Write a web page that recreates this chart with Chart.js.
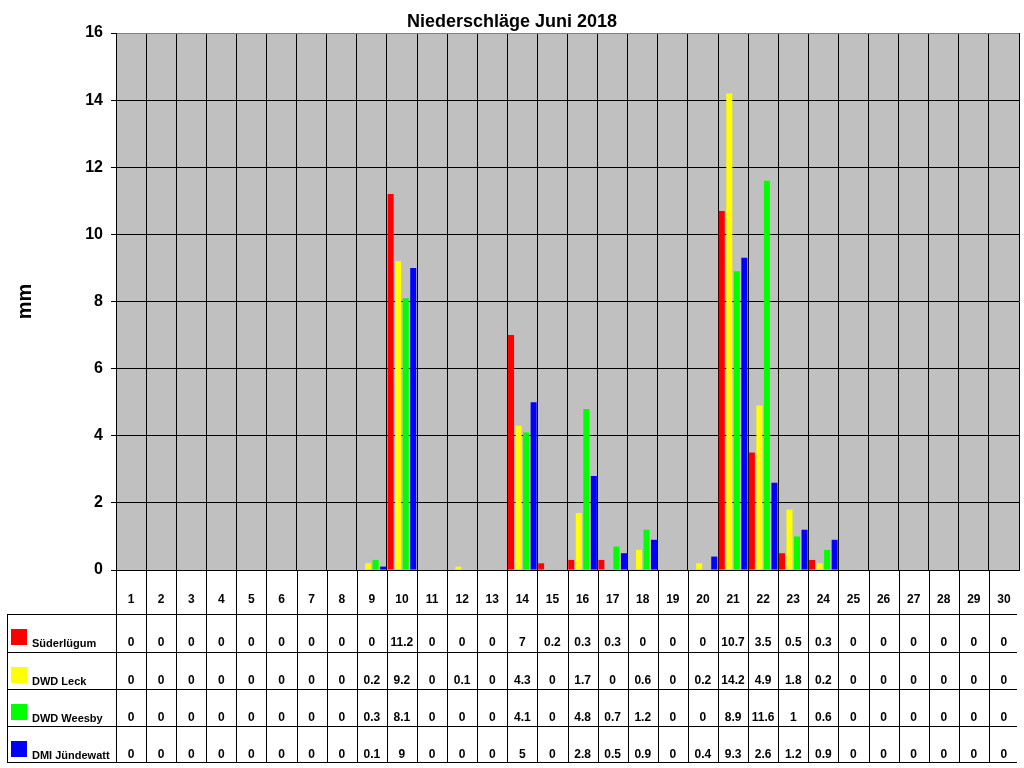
<!DOCTYPE html>
<html>
<head>
<meta charset="utf-8">
<script src="https://cdn.jsdelivr.net/npm/chart.js@4.4.0/dist/chart.umd.min.js"></script>
<style>
html,body{margin:0;padding:0;background:#fff;overflow:hidden;}
#wrap{width:1024px;height:768px;position:relative;}
canvas{display:block;}
</style>
</head>
<body>
<div id="wrap"><canvas id="c" width="1024" height="768"></canvas></div>
<script>
const days = ["1","2","3","4","5","6","7","8","9","10","11","12","13","14","15","16","17","18","19","20","21","22","23","24","25","26","27","28","29","30"];
const seriesNames = ["Süderlügum", "DWD Leck", "DWD Weesby", "DMI Jündewatt"];
const seriesColors = ["#FF0000", "#FFFF00", "#00FF00", "#0000FF"];
const suederluegum = [0,0,0,0,0,0,0,0,0,11.2,0,0,0,7,0.2,0.3,0.3,0,0,0,10.7,3.5,0.5,0.3,0,0,0,0,0,0];
const dwdLeck      = [0,0,0,0,0,0,0,0,0.2,9.2,0,0.1,0,4.3,0,1.7,0,0.6,0,0.2,14.2,4.9,1.8,0.2,0,0,0,0,0,0];
const dwdWeesby    = [0,0,0,0,0,0,0,0,0.3,8.1,0,0,0,4.1,0,4.8,0.7,1.2,0,0,8.9,11.6,1,0.6,0,0,0,0,0,0];
const dmiJuendewatt= [0,0,0,0,0,0,0,0,0.1,9,0,0,0,5,0,2.8,0.5,0.9,0,0.4,9.3,2.6,1.2,0.9,0,0,0,0,0,0];
const yTicks = [0,2,4,6,8,10,12,14,16];
const seriesValues = [suederluegum, dwdLeck, dwdWeesby, dmiJuendewatt];

const FONT = "'Liberation Sans', Arial, sans-serif";

const bgPlugin = {
  id: 'bg',
  beforeDraw(chart) {
    const {ctx, chartArea: a} = chart;
    ctx.save();
    ctx.fillStyle = '#C0C0C0';
    ctx.fillRect(a.left, a.top, a.right - a.left, a.bottom - a.top);
    ctx.restore();
  }
};

const tablePlugin = {
  id: 'table',
  afterDraw(chart) {
    const {ctx, chartArea: a} = chart;
    const xs = chart.scales.x;
    const step = xs.getPixelForValue(1) - xs.getPixelForValue(0);
    const rowTops = [a.bottom + 44, a.bottom + 82, a.bottom + 119, a.bottom + 156];
    const tableBottom = a.bottom + 192;
    const legendLeft = 7;
    ctx.save();
    ctx.strokeStyle = '#000';
    ctx.lineWidth = 1;
    ctx.beginPath();
    for (let i = 0; i < days.length; i++) {
      const x = Math.round(xs.getPixelForValue(i) - step / 2) + 0.5;
      ctx.moveTo(x, a.bottom);
      ctx.lineTo(x, tableBottom);
    }
    ctx.moveTo(legendLeft + 0.5, rowTops[0]);
    ctx.lineTo(legendLeft + 0.5, tableBottom);
    const hl = rowTops.concat([tableBottom]);
    const rightEnd = a.right - 2;
    hl.forEach(y => {
      ctx.moveTo(legendLeft, y + 0.5);
      ctx.lineTo(rightEnd, y + 0.5);
    });
    ctx.stroke();

    ctx.textBaseline = 'middle';
    seriesValues.forEach((vals, r) => {
      const top = rowTops[r];
      ctx.fillStyle = seriesColors[r];
      ctx.fillRect(11, top + 15, 16, 16);
      ctx.fillStyle = '#000';
      ctx.textAlign = 'left';
      ctx.font = "bold 11px " + FONT;
      ctx.fillText(seriesNames[r], 32, top + 30);
      ctx.textAlign = 'center';
      ctx.font = "bold 12px " + FONT;
      vals.forEach((v, i) => {
        ctx.fillText(String(v), xs.getPixelForValue(i), top + 29);
      });
    });
    ctx.restore();
  }
};

new Chart(document.getElementById('c'), {
  type: 'bar',
  data: {
    labels: days,
    datasets: seriesNames.map((n, i) => ({
      label: n,
      data: seriesValues[i],
      backgroundColor: seriesColors[i],
      borderWidth: 0,
      categoryPercentage: 1.0,
      barPercentage: 0.8
    }))
  },
  options: {
    responsive: false,
    animation: false,
    devicePixelRatio: 1,
    layout: { padding: { left: 5, right: 5, top: 0, bottom: 0 } },
    plugins: {
      legend: { display: false },
      tooltip: { enabled: false },
      title: {
        display: true,
        text: 'Niederschläge Juni 2018',
        color: '#000',
        font: { family: FONT, size: 18, weight: 'bold', lineHeight: 1.0 },
        padding: { top: 13, bottom: 2 }
      }
    },
    scales: {
      x: {
        type: 'category',
        offset: true,
        grid: {
          offset: true,
          drawTicks: true,
          tickLength: 22,
          tickColor: 'rgba(0,0,0,0)',
          color: (c) => (c.index === days.length ? '#808080' : '#000'),
          lineWidth: 1
        },
        border: { color: '#000', width: 1 },
        ticks: {
          color: '#000',
          font: { family: FONT, size: 12, weight: 'bold' },
          padding: 0,
          maxRotation: 0,
          autoSkip: false
        },
        afterFit: (s) => { s.height = 198; }
      },
      y: {
        min: 0,
        max: 16,
        afterBuildTicks: (s) => { s.ticks = yTicks.map(v => ({ value: v })); },
        grid: {
          color: (c) => (c.tick && c.tick.value === 16 ? '#808080' : '#000'),
          tickColor: '#000',
          tickLength: 5,
          lineWidth: 1
        },
        border: { color: '#000', width: 1 },
        ticks: {
          color: '#000',
          font: { family: FONT, size: 16, weight: 'bold' },
          padding: 8
        },
        title: {
          display: true,
          text: 'mm',
          color: '#000',
          font: { family: FONT, size: 20, weight: 'bold' },
          padding: { top: 8, bottom: 0 }
        },
        afterFit: (s) => { s.width = 111; }
      }
    }
  },
  plugins: [bgPlugin, tablePlugin]
});
</script>
</body>
</html>
